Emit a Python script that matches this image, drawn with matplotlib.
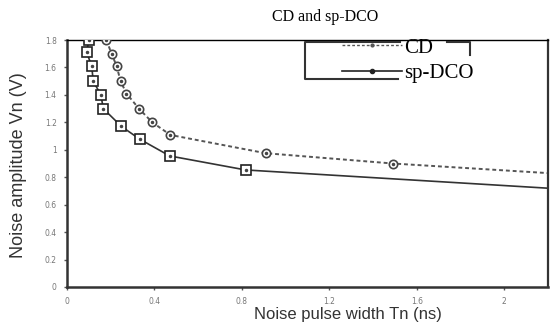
import matplotlib
matplotlib.use("Agg")
import matplotlib.pyplot as plt
from matplotlib.ticker import FuncFormatter

# Data
cd_x = [0.18, 0.204, 0.227, 0.245, 0.272, 0.329, 0.39, 0.473, 0.909, 1.49]
cd_y = [1.80, 1.70, 1.61, 1.50, 1.41, 1.30, 1.20, 1.108, 0.975, 0.90]
cd_end = (2.2, 0.83)

sp_x = [0.10, 0.09, 0.113, 0.12, 0.155, 0.166, 0.249, 0.333, 0.47, 0.817]
sp_y = [1.80, 1.71, 1.61, 1.50, 1.40, 1.30, 1.17, 1.077, 0.955, 0.853]
sp_end = (2.2, 0.72)

x_ticks = [0, 0.4, 0.8, 1.2, 1.6, 2.0]
y_ticks = [0, 0.2, 0.4, 0.6, 0.8, 1.0, 1.2, 1.4, 1.6, 1.8]

W, H = 550, 327
L, R, T, B = 67, 548, 40, 287
fig = plt.figure(figsize=(W/100, H/100), dpi=100)
ax = fig.add_axes([L/W, 1 - B/H, (R-L)/W, (B-T)/H])

def ax_xy(px, py):
    return ((px - L) / (R - L), (B - py) / (B - T))

# lines
ax.plot(cd_x + [cd_end[0]], cd_y + [cd_end[1]], color="#555555", lw=1.4,
        ls=(0, (2, 1.5)), zorder=2)
ax.plot(sp_x + [sp_end[0]], sp_y + [sp_end[1]], color="#333333", lw=1.2,
        zorder=2)
# markers
ax.plot(cd_x, cd_y, ls="none", marker="o", ms=6, mfc="white", mec="#444444",
        mew=1.2, zorder=3)
ax.plot(cd_x, cd_y, ls="none", marker="o", ms=1.5, color="#444444", zorder=4)
ax.plot(sp_x, sp_y, ls="none", marker="s", ms=6.5, mfc="white", mec="#222222",
        mew=1.2, zorder=3)
ax.plot(sp_x, sp_y, ls="none", marker="o", ms=1.5, color="#444444", zorder=4)

# legend
l1, = ax.plot([], [], color="#555555", lw=1.0, ls=(0, (2, 1.5)), marker="o",
              ms=2, label="CD")
l2, = ax.plot([], [], color="#222222", lw=1.2, marker="o", ms=3,
              label="sp-DCO")
lx, ly = ax_xy(342, 38)
leg = ax.legend(handles=[l1, l2], loc="upper left",
                bbox_to_anchor=(lx, ly), frameon=False,
                prop={"family": "Liberation Serif", "size": 15},
                handlelength=2.9, handletextpad=0.1, borderpad=0.0,
                labelspacing=0.3, borderaxespad=0.0)

# legend frame pieces as drawn in the reference
frame_style = dict(color="#333333", lw=1.5, transform=ax.transAxes,
                   clip_on=False, zorder=5)
p = [ax_xy(400, 42), ax_xy(305, 42), ax_xy(305, 79), ax_xy(398, 79)]
ax.plot([q[0] for q in p], [q[1] for q in p], **frame_style)
p = [ax_xy(447, 42), ax_xy(470, 42), ax_xy(470, 55)]
ax.plot([q[0] for q in p], [q[1] for q in p], **frame_style)

ax.set_xlim(0, 2.2)
ax.set_ylim(0, 1.8)
ax.set_xticks(x_ticks)
ax.set_yticks(y_ticks)
fmt = FuncFormatter(lambda v, p: ("%g" % round(v, 2)))
ax.xaxis.set_major_formatter(fmt)
ax.yaxis.set_major_formatter(fmt)
ax.tick_params(axis="both", labelsize=5.5, labelcolor="#777777", color="#555555",
               length=2.5, width=1, direction="out", pad=5)
for s in ["left", "bottom"]:
    ax.spines[s].set_linewidth(1.8)
    ax.spines[s].set_color("#333333")
ax.spines["top"].set_linewidth(1.0)
ax.spines["right"].set_linewidth(1.6)
ax.spines["right"].set_color("#333333")

fig.text(325/W, 1 - 17/H, "CD and sp-DCO", ha="center", va="center",
         family="Liberation Serif", fontsize=11.5)
fig.text(348/W, 1 - 314/H, "Noise pulse width Tn (ns)", ha="center",
         va="center", family="Liberation Sans", fontsize=12, color="#333333")
fig.text(19/W, 1 - 165/H, "Noise amplitude Vn (V)", ha="center",
         va="center", rotation=90, family="Liberation Sans", fontsize=13,
         color="#333333")

fig.savefig("out.png", dpi=100)
